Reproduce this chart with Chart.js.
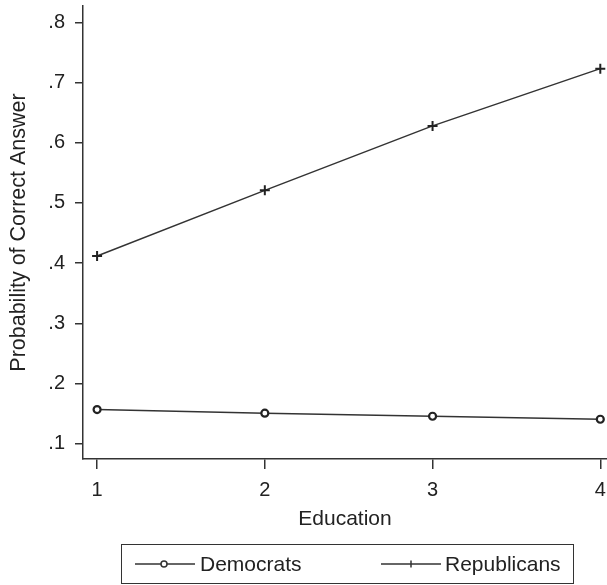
<!DOCTYPE html>
<html>
<head>
<meta charset="utf-8">
<script src="https://cdn.jsdelivr.net/npm/chart.js@4/dist/chart.umd.min.js"></script>
<style>
  body { margin: 0; background: #fff; font-family: "Liberation Sans", Arial, sans-serif; }
  #wrap { position: relative; width: 607px; height: 585px; }
  #legend {
    position: absolute; left: 121px; top: 544px; width: 451px; height: 38px;
    border: 1.5px solid #333; color: #222; font-size: 21px;
  }
  .item { position: absolute; top: 0; height: 38px; line-height: 38px; white-space: nowrap; }
  .item svg { position: absolute; top: 12px; }
  .item span { position: absolute; top: 0; }
</style>
</head>
<body>
<div id="wrap">
  <canvas id="chart" width="607" height="585"></canvas>
  <div id="legend">
    <div class="item" style="left:13px">
      <svg width="64" height="14"><line x1="0" y1="7" x2="60" y2="7" stroke="#333" stroke-width="1.5"/><circle cx="29" cy="7" r="3" fill="#fff" stroke="#333" stroke-width="1.5"/></svg>
      <span style="left:65px">Democrats</span>
    </div>
    <div class="item" style="left:259px">
      <svg width="64" height="14"><line x1="0" y1="7" x2="60" y2="7" stroke="#333" stroke-width="1.5"/><line x1="30" y1="3.5" x2="30" y2="10.5" stroke="#333" stroke-width="1.5"/></svg>
      <span style="left:64px">Republicans</span>
    </div>
  </div>
</div>
<script>
// Data
const educationLevels = [1, 2, 3, 4];
const democrats = [0.157, 0.151, 0.146, 0.141];
const republicans = [0.412, 0.521, 0.628, 0.723];
const xTickValues = [1, 2, 3, 4];
const yTickValues = [0.1, 0.2, 0.3, 0.4, 0.5, 0.6, 0.7, 0.8];

const ink = '#333';
const fontFamily = '"Liberation Sans", Arial, sans-serif';

function toPoints(ys) {
    return educationLevels.map((x, i) => ({ x: x, y: ys[i] }));
}

function noPadding(s) {
    s.paddingLeft = 0;
    s.paddingRight = 0;
    s.paddingTop = 0;
    s.paddingBottom = 0;
}

const ctx = document.getElementById('chart').getContext('2d');
new Chart(ctx, {
    type: 'line',
    data: {
        datasets: [{
            label: 'Democrats',
            data: toPoints(democrats),
            borderColor: ink,
            borderWidth: 1.5,
            pointStyle: 'circle',
            pointRadius: 3.5,
            pointBorderWidth: 2.2,
            pointBorderColor: '#222',
            pointBackgroundColor: '#fff',
            tension: 0
        }, {
            label: 'Republicans',
            data: toPoints(republicans),
            borderColor: ink,
            borderWidth: 1.5,
            pointStyle: 'cross',
            pointRadius: 5,
            pointBorderWidth: 2,
            pointBorderColor: '#222',
            tension: 0
        }]
    },
    options: {
        responsive: false,
        animation: false,
        layout: { autoPadding: false, padding: { top: 6, right: 0, bottom: 50, left: 0 } },
        plugins: {
            legend: { display: false },
            tooltip: { enabled: false }
        },
        scales: {
            x: {
                type: 'linear',
                min: 0.916,
                max: 4.04,
                afterBuildTicks: s => { s.ticks = xTickValues.map(v => ({ value: v })); },
                afterFit: s => { s.height = 76; noPadding(s); },
                grid: { display: true, drawOnChartArea: false, drawTicks: true, tickLength: 10, color: ink, lineWidth: 1.5 },
                border: { display: true, color: ink, width: 1.5 },
                ticks: {
                    color: '#222',
                    padding: 9,
                    autoSkip: false,
                    maxRotation: 0,
                    font: { family: fontFamily, size: 20 },
                    callback: v => String(v)
                },
                title: {
                    display: true,
                    text: 'Education',
                    color: '#222',
                    font: { family: fontFamily, size: 21 },
                    padding: { top: 0, bottom: 3 }
                }
            },
            y: {
                type: 'linear',
                min: 0.075,
                max: 0.827,
                afterBuildTicks: s => { s.ticks = yTickValues.map(v => ({ value: v })); },
                afterFit: s => { s.width = 83; noPadding(s); },
                grid: { display: true, drawOnChartArea: false, drawTicks: true, tickLength: 8, color: ink, lineWidth: 1.5 },
                border: { display: true, color: ink, width: 1.5 },
                ticks: {
                    color: '#222',
                    padding: 10,
                    font: { family: fontFamily, size: 20 },
                    callback: v => '.' + Math.round(v * 10)
                },
                title: {
                    display: true,
                    text: 'Probability of Correct Answer',
                    color: '#222',
                    font: { family: fontFamily, size: 21.5 },
                    padding: { top: 6, bottom: 0 }
                }
            }
        }
    }
});
</script>
</body>
</html>
